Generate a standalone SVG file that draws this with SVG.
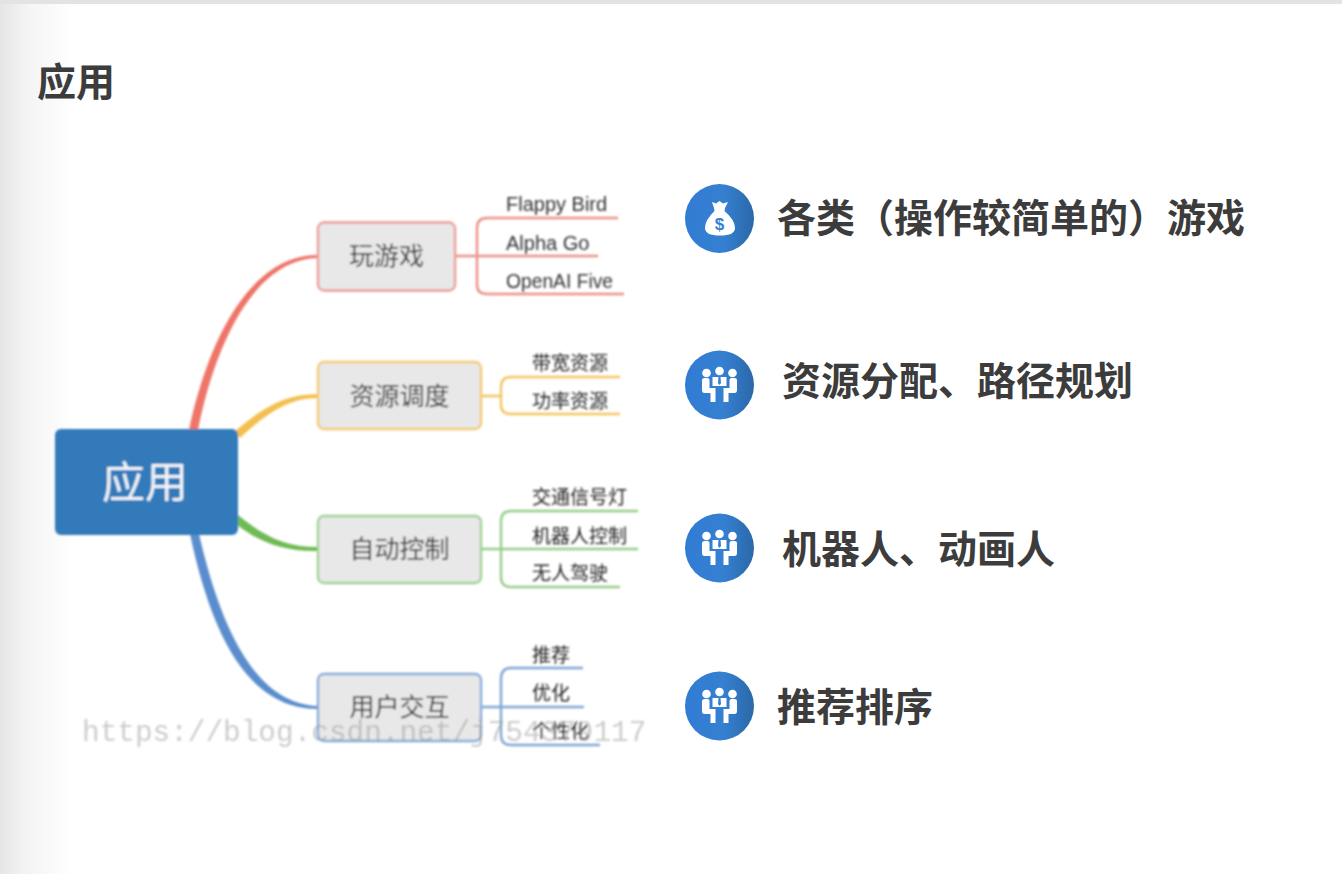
<svg xmlns="http://www.w3.org/2000/svg" width="1342" height="874" viewBox="0 0 1342 874">
<style>
text{font-family:"Liberation Sans","Noto Sans CJK SC",sans-serif}
.cjk{font-family:"Noto Sans CJK SC","Liberation Sans",sans-serif}
.h{font-weight:700;fill:#3c3c3c;font-size:39px}
.n{fill:#e8e8e8;stroke-width:2.4}
.nt{font-size:25px;fill:#333;text-anchor:middle}
.lt{font-size:20px;fill:#333}
.lc{font-size:19px;fill:#222}
.e{fill:none;stroke-width:2.4}
.red{stroke:#ec8f87}.yel{stroke:#f4c45f}.gre{stroke:#96cc88}.blu{stroke:#7ea6d4}
</style>
<defs>
<linearGradient id="sh" x1="0" x2="1" y1="0" y2="0"><stop offset="0" stop-color="#e6e6e6"/><stop offset=".4" stop-color="#f5f5f5"/><stop offset="1" stop-color="#fff"/></linearGradient>
<linearGradient id="circ" x1="0" x2="1" y1="0" y2="0"><stop offset="0" stop-color="#317cd3"/><stop offset=".55" stop-color="#3680d2"/><stop offset="1" stop-color="#2a68a8"/></linearGradient>
<filter id="soft" x="-5%" y="-5%" width="110%" height="110%"><feGaussianBlur stdDeviation="0.8"/></filter>
<g id="people" fill="#fff">
<circle cx="-13" cy="-12" r="4.300"/><circle cx="0" cy="-14" r="4.300"/><circle cx="13" cy="-12" r="4.300"/>
<path d="M-7-8H7V1H-7Z"/>
<path d="M-17.500-5Q-17.500-7-15-7H-12Q-10-7-10-5V3H-4V17H-9V8H-15Q-17.500 8-17.500 5Z"/>
<path d="M17.500-5Q17.500-7 15-7H12Q10-7 10-5V3H4V17H9V8H15Q17.500 8 17.500 5Z"/>
<path d="M-1-8L1-8L1.500-2L0 0L-1.500-2Z" fill="#3680d2"/>
</g>
</defs>
<rect width="1342" height="874" fill="#fff"/>
<rect x="0" y="0" width="75" height="874" fill="url(#sh)"/>
<rect x="0" y="0" width="1342" height="4" fill="#e3e3e3"/>
<text class="h cjk" x="37" y="96">应用</text>
<g filter="url(#soft)">
<g id="connectors">
<path d="M189 430C208 340 250 255 318 255V258C256 259 216 340 198 430Z" fill="#ee7468"/>
<path d="M234 432C262 408 285 394 318 394V398C288 398 266 414 240 438Z" fill="#f3c050"/>
<path d="M238 515C264 536 285 547 318 547V551C285 552 258 542 236 524Z" fill="#6fba55"/>
<path d="M190 534C211 632 246 709 318 709V706C254 704 220 625 199 534Z" fill="#5a8dce"/>
<path class="e red" d="M455 256H598M477 256V228Q477 218 487 218H618M477 256V285Q477 294 487 294H624"/>
<path class="e yel" d="M481 396H501M501 396V387Q501 377 511 377H620M501 396V405Q501 414 511 414H620"/>
<path class="e gre" d="M481 549H638M501 549V521Q501 511 511 511H638M501 549V577Q501 587 511 587H620"/>
<path class="e blu" d="M481 707H584M501 707V679Q501 668 511 668H583M501 707V735Q501 745 511 745H600"/>
</g>
<g id="root"><rect x="55" y="429" width="183" height="106" rx="6" fill="#337ab9"/><text class="cjk" x="145" y="498" font-size="43" fill="#f2f6fa" text-anchor="middle">应用</text></g>
<g id="n1"><rect class="n" x="318" y="222.500" width="137" height="68" rx="6" stroke="#ec9c95"/><text class="nt cjk" x="386.500" y="265">玩游戏</text></g>
<g id="n2"><rect class="n" x="318" y="362" width="163" height="67" rx="6" stroke="#f4c970"/><text class="nt cjk" x="399.500" y="404.500">资源调度</text></g>
<g id="n3"><rect class="n" x="318" y="516" width="163" height="67" rx="6" stroke="#9ed192"/><text class="nt cjk" x="399.500" y="558">自动控制</text></g>
<g id="n4"><rect class="n" x="318" y="674" width="163" height="67" rx="6" stroke="#85abd8"/><text class="nt cjk" x="399.500" y="716">用户交互</text></g>
<g id="l1"><text class="lt" x="506" y="211">Flappy Bird</text></g>
<g id="l2"><text class="lt" x="506" y="250">Alpha Go</text></g>
<g id="l3"><text class="lt" x="506" y="288" textLength="107" lengthAdjust="spacingAndGlyphs">OpenAI Five</text></g>
<g id="l4"><text class="lc cjk" x="532" y="370">带宽资源</text></g>
<g id="l5"><text class="lc cjk" x="532" y="408">功率资源</text></g>
<g id="l6"><text class="lc cjk" x="532" y="504">交通信号灯</text></g>
<g id="l7"><text class="lc cjk" x="532" y="543">机器人控制</text></g>
<g id="l8"><text class="lc cjk" x="532" y="580">无人驾驶</text></g>
<g id="l9"><text class="lc cjk" x="532" y="662">推荐</text></g>
<g id="l10"><text class="lc cjk" x="532" y="700">优化</text></g>
<g id="l11"><text class="lc cjk" x="532" y="738">个性化</text></g>
<text x="82" y="741" font-size="29.400" fill="#999" opacity=".5" style="font-family:'Liberation Mono',monospace">https://blog.csdn.net/j754379117</text>
</g>
<g id="i1"><circle cx="719.500" cy="218.500" r="34.500" fill="url(#circ)"/>
<path fill="#fff" d="M712 202L716 203.500L719.500 201L723 203.500L728 202L725 208L724.500 211Q735 220 735 228Q735 235.500 720 235.500Q705 235.500 705 228Q705 220 714.500 211L714 208Z"/>
<text x="719.500" y="230" font-size="17" font-weight="700" fill="#3680d2" text-anchor="middle">$</text>
<text class="h cjk" x="777" y="232">各类（操作较简单的）游戏</text></g>
<g id="i2"><circle cx="719.500" cy="385" r="34.500" fill="url(#circ)"/><use href="#people" x="719.500" y="385"/><text class="h cjk" x="782" y="395">资源分配、路径规划</text></g>
<g id="i3"><circle cx="719.500" cy="548" r="34.500" fill="url(#circ)"/><use href="#people" x="719.500" y="548"/><text class="h cjk" x="782" y="563">机器人、动画人</text></g>
<g id="i4"><circle cx="719.500" cy="706" r="34.500" fill="url(#circ)"/><use href="#people" x="719.500" y="706"/><text class="h cjk" x="777" y="721">推荐排序</text></g>
</svg>
